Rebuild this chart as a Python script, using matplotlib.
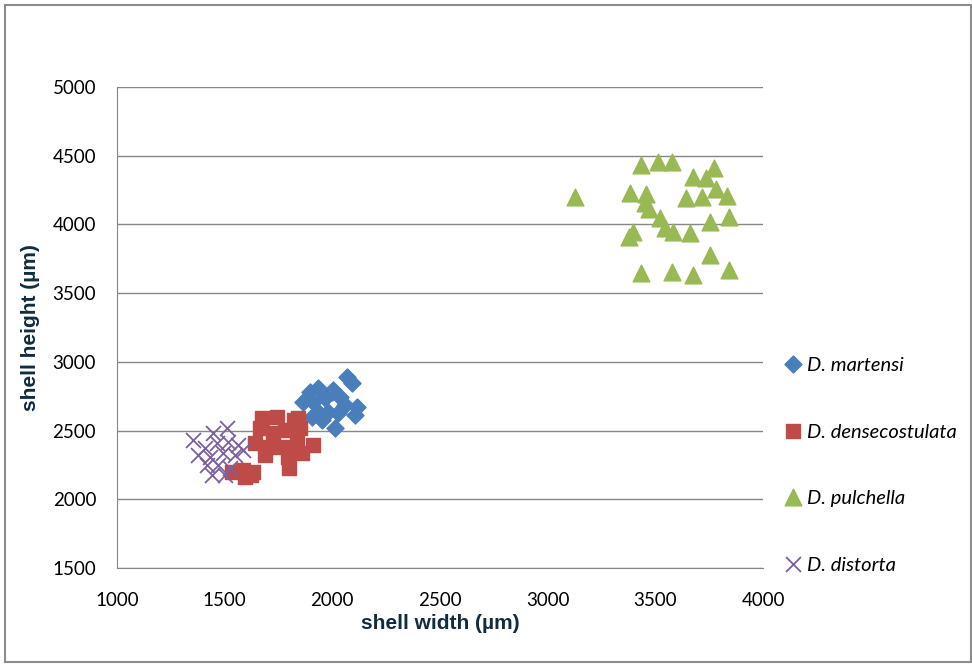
import matplotlib

matplotlib.use("Agg")
import matplotlib.pyplot as plt
from matplotlib.patches import Rectangle

# D. martensi
martensi_w = [2068, 2091, 1896, 1933, 2003, 1864, 1910, 1966, 2036, 2059,
              1933, 1980, 2026, 2105, 1952, 2012, 1906, 2115, 1998]
martensi_h = [2890, 2846, 2781, 2810, 2795, 2708, 2708, 2737, 2744, 2686,
              2635, 2635, 2628, 2613, 2577, 2520, 2599, 2672, 2781]

# D. densecostulata
dense_w = [1673, 1743, 1841, 1664, 1725, 1780, 1850, 1641, 1701, 1766,
           1836, 1910, 1687, 1794, 1859, 1800, 1585, 1632, 1594, 1535, 1620, 1820]
dense_h = [2591, 2599, 2591, 2518, 2482, 2504, 2518, 2409, 2380, 2380,
           2416, 2395, 2322, 2307, 2336, 2230, 2213, 2198, 2162, 2200, 2180, 2575]

# D. pulchella
pulch_w = [3127, 3434, 3513, 3578, 3675, 3735, 3772, 3382, 3457, 3452,
           3471, 3643, 3717, 3782, 3833, 3522, 3545, 3582, 3661, 3396,
           3378, 3754, 3842, 3754, 3434, 3578, 3675, 3842]
pulch_h = [4199, 4432, 4454, 4454, 4345, 4338, 4410, 4229, 4221, 4156,
           4112, 4192, 4199, 4258, 4207, 4047, 3974, 3945, 3938, 3945,
           3909, 4018, 4054, 3778, 3647, 3654, 3632, 3668]

# D. distorta
dist_w = [1353, 1446, 1511, 1409, 1464, 1515, 1562, 1376, 1432, 1492,
          1548, 1418, 1469, 1525, 1441, 1585, 1502]
dist_h = [2431, 2482, 2518, 2373, 2409, 2416, 2395, 2322, 2307, 2336,
          2322, 2249, 2249, 2227, 2176, 2358, 2176]

x_ticks = [1000, 1500, 2000, 2500, 3000, 3500, 4000]
y_ticks = [1500, 2000, 2500, 3000, 3500, 4000, 4500, 5000]

fig = plt.figure(figsize=(9.72, 6.64), dpi=100)
ax = fig.add_axes([0.1204, 0.1446, 0.6646, 0.7244])

ax.scatter(martensi_w, martensi_h, marker="D", s=75, color="#4A7EBB",
           label="D. martensi", zorder=3)
ax.scatter(dense_w, dense_h, marker="s", s=115, color="#BE4B48",
           label="D. densecostulata", zorder=3)
ax.scatter(pulch_w, pulch_h, marker="^", s=145, color="#98B954",
           label="D. pulchella", zorder=3)
ax.scatter(dist_w, dist_h, marker="x", s=115, color="#7D60A0", linewidths=1.3,
           label="D. distorta", zorder=3)

ax.set_xlim(1000, 4000)
ax.set_ylim(1500, 5000)
ax.set_xticks(x_ticks)
ax.set_yticks(y_ticks)
ax.grid(axis="y", color="#868686", linewidth=1)
ax.set_axisbelow(True)
for side in ["top", "right"]:
    ax.spines[side].set_visible(False)
for side in ["left", "bottom"]:
    ax.spines[side].set_color("#868686")
ax.tick_params(axis="y", length=0, labelsize=13.5, pad=15)
ax.tick_params(axis="x", length=0, labelsize=13.5, pad=17)
for lbl in ax.get_xticklabels() + ax.get_yticklabels():
    lbl.set_family("Lato")

ax.set_xlabel("shell width (µm)", fontsize=15, fontweight="bold",
              color="#0F2D3F", family="Liberation Sans", labelpad=4)
ax.set_ylabel("shell height (µm)", fontsize=15, fontweight="bold",
              color="#0F2D3F", family="Liberation Sans", labelpad=9)

leg = fig.legend(loc="center left", bbox_to_anchor=(0.797, 0.299),
                 frameon=False, handlelength=0.8, handletextpad=0.3,
                 labelspacing=2.45, borderpad=0, scatteryoffsets=[0.5],
                 prop={"family": "Lato", "style": "italic", "size": 14.5})

fig.patches.append(Rectangle((0.005, 0.003), 0.994, 0.99, transform=fig.transFigure,
                             fill=False, edgecolor="#8C8C8C", linewidth=1.5))

fig.savefig("out.png", dpi=100)
plt.close(fig)
